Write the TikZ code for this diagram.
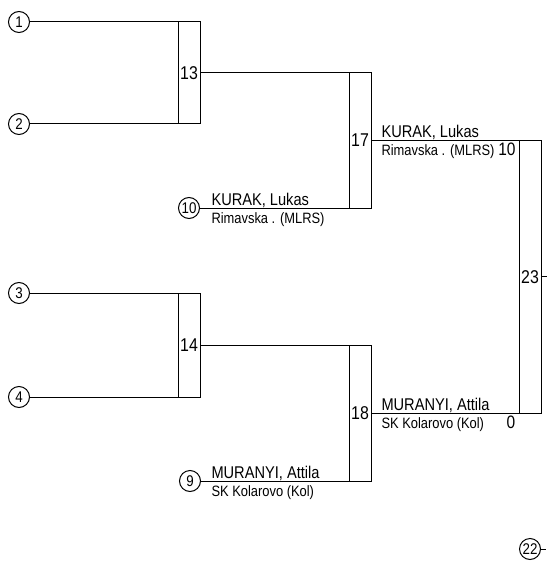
\documentclass[tikz,border=0pt]{standalone}
\usepackage{fontspec}
\setmainfont[FakeStretch=0.86]{Liberation Sans}
\usetikzlibrary{positioning}

\tikzset{
  seed/.style={draw, circle, inner sep=0pt, minimum size=21pt, font=\fontsize{15.5}{15.5}\selectfont},
  match/.style={draw, rectangle, inner sep=0pt, minimum width=22pt, font=\fontsize{18.5}{18.5}\selectfont},
  player/.style={anchor=base west, inner sep=0pt, font=\fontsize{17}{17}\selectfont},
  club/.style={anchor=north west, inner sep=0pt, font=\fontsize{15}{15}\selectfont},
  score/.style={anchor=north, inner sep=0pt, font=\fontsize{18}{18}\selectfont},
}

\begin{document}
\begin{tikzpicture}[x=1pt, y=-1pt, line width=1pt]
\useasboundingbox (0,0) rectangle (546,572);

% seeds
\node[seed] (s1) at (19,22) {1};
\node[seed] (s2) at (19,124) {2};
\node[seed] (s3) at (19,293) {3};
\node[seed] (s4) at (19,397) {4};
\node[seed] (s10) at (189,208) {10};
\node[seed] (s9) at (190,481) {9};
\node[seed] (s22) at (530,549) {22};

% matches
\node[match, minimum height=102pt] (m13) at (189,73) {13};
\node[match, minimum height=104pt] (m14) at (189,345) {14};
\node[match, minimum height=135pt] (m17) at (360,140.5) {17};
\node[match, minimum height=136pt] (m18) at (360,413) {18};
\node[match, minimum height=272.5pt] (m23) at (530,276.75) {23};

% lines
\draw (s1) -- (s1 -| m13.east);
\draw (s2) -- (s2 -| m13.east);
\draw (s3) -- (s3 -| m14.east);
\draw (s4) -- (s4 -| m14.east);
\draw (m13) -- (m13 -| m17.east);
\draw (s10) -- (s10 -| m17.east);
\draw (m14) -- (m14 -| m18.east);
\draw (s9) -- (s9 -| m18.east);
\draw (m17) -- (m17 -| m23.east);
\draw (m18) -- (m18 -| m23.east);
\draw (m23.east) -- ++(5,0);
\draw (s22.east) -- ++(5,0);

% names
\node[player] (n10) at (211,205.5) {KURAK, Lukas};
\node[club] (c10) at (211,212) {Rimavska . (MLRS)};
\node[player] (n17) at (381,137.5) {KURAK, Lukas};
\node[club] (c17) at (381,144.5) {Rimavska . (MLRS)};
\node[score, anchor=north east] (r17) at (516,142) {10};
\node[player] (n9) at (211,478.5) {MURANYI, Attila};
\node[club] (c9) at (211,485) {SK Kolarovo (Kol)};
\node[player] (n18) at (381,410.5) {MURANYI, Attila};
\node[club] (c18) at (381,417) {SK Kolarovo (Kol)};
\node[score] (r18) at (511,415) {0};

\end{tikzpicture}
\end{document}
